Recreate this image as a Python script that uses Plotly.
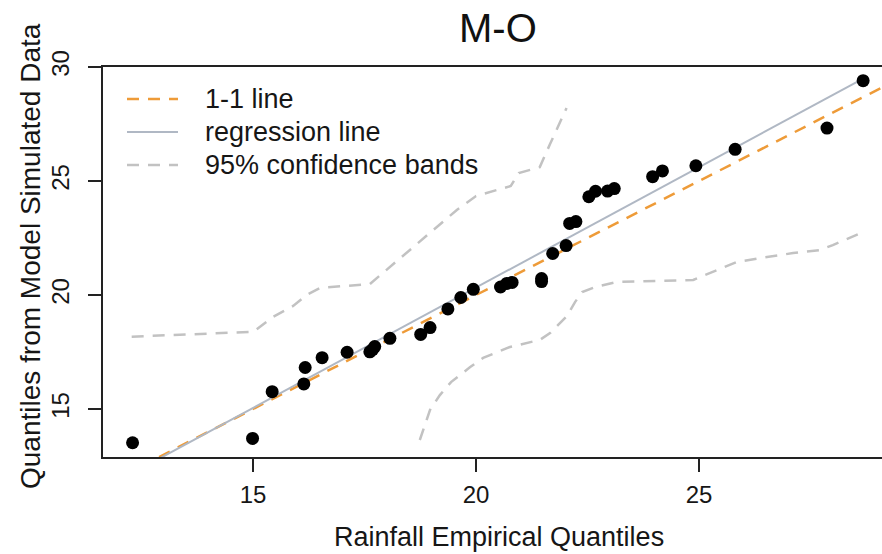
import numpy as np
import plotly.graph_objects as go

# Sorted quantiles: rainfall (empirical) vs. model-simulated
rain_q = [12.30, 14.99, 15.43, 16.14, 16.17, 16.55, 17.11, 17.62, 17.68, 17.73,
          18.07, 18.76, 18.97, 19.37, 19.66, 19.94, 20.55, 20.69, 20.81, 21.47,
          21.47, 21.72, 22.02, 22.10, 22.24, 22.53, 22.68, 22.95, 23.10, 23.96,
          24.18, 24.93, 25.81, 27.87, 28.68]
model_q = [13.52, 13.71, 15.76, 16.10, 16.82, 17.25, 17.49, 17.51, 17.60, 17.74,
           18.10, 18.27, 18.57, 19.39, 19.89, 20.25, 20.35, 20.51, 20.55, 20.59,
           20.72, 21.82, 22.17, 23.14, 23.22, 24.31, 24.55, 24.56, 24.67, 25.19,
           25.44, 25.67, 26.39, 27.32, 29.40]

# 95% confidence bands
upper_x = [12.28, 15.01, 15.45, 15.90, 16.20, 16.50, 17.62, 17.91, 18.59, 19.13,
           19.57, 20.00, 20.47, 20.78, 20.96, 21.43, 21.66, 21.88, 22.03]
upper_y = [18.17, 18.39, 19.04, 19.52, 20.00, 20.31, 20.48, 20.96, 22.11, 22.98,
           23.73, 24.34, 24.61, 24.78, 25.35, 25.61, 26.62, 27.54, 28.20]
lower_x = [18.74, 18.97, 19.19, 19.44, 19.87, 20.16, 20.76, 21.43, 21.66, 22.04,
           22.22, 22.38, 22.67, 23.16, 24.87, 25.31, 25.85, 26.37, 27.11, 27.71,
           28.00, 28.68]
lower_y = [13.64, 14.96, 15.61, 16.18, 16.84, 17.24, 17.72, 18.03, 18.33, 19.08,
           19.69, 20.13, 20.35, 20.57, 20.66, 21.01, 21.45, 21.62, 21.84, 21.97,
           22.19, 22.76]

x_range = [11.637, 29.103]
y_range = [12.895, 30.0]
x_ticks = [15, 20, 25]
y_ticks = [15, 20, 25, 30]

title = "M-O"
x_title = "Rainfall Empirical Quantiles"
y_title = "Quantiles from Model Simulated Data"
legend_labels = ["1-1 line", "regression line", "95% confidence bands"]

ORANGE = "#EE9B38"
REG = "#B0B8C4"
BAND = "#C2C2C2"
AXIS = "#222222"
TEXT = "#161616"
FONT = "Liberation Sans, Arial, Helvetica, sans-serif"

# least-squares fit of model quantiles on rainfall quantiles
slope, intercept = np.polyfit(rain_q, model_q, 1)
reg_x = np.array([min(rain_q), max(rain_q)])
reg_y = intercept + slope * reg_x

fig = go.Figure()

fig.add_trace(go.Scatter(x=upper_x, y=upper_y, mode="lines", showlegend=False,
                         line=dict(color=BAND, width=2.5, dash="12px,9px")))
fig.add_trace(go.Scatter(x=lower_x, y=lower_y, mode="lines", showlegend=False,
                         line=dict(color=BAND, width=2.5, dash="12px,9px")))
fig.add_trace(go.Scatter(x=x_range, y=x_range, mode="lines", showlegend=False,
                         line=dict(color=ORANGE, width=2.5, dash="12px,9px")))
fig.add_trace(go.Scatter(x=reg_x, y=reg_y, mode="lines", showlegend=False,
                         line=dict(color=REG, width=2)))
fig.add_trace(go.Scatter(x=rain_q, y=model_q, mode="markers", showlegend=False,
                         cliponaxis=False,
                         marker=dict(color="black", size=13, line=dict(width=0))))

# legend drawn in the upper-left corner of the panel
W, H = 779.0, 390.0  # plot-area size in px


def px_x(p):
    return (p - 103) / W


def px_y(p):
    return (457 - p) / H


leg_rows = [99, 132, 165]
leg_styles = [dict(color=ORANGE, width=2.5, dash="12px,9px"),
              dict(color=REG, width=2),
              dict(color=BAND, width=2.5, dash="12px,9px")]
for row, style, label in zip(leg_rows, leg_styles, legend_labels):
    fig.add_shape(type="line", xref="paper", yref="paper",
                  x0=px_x(127), x1=px_x(178), y0=px_y(row), y1=px_y(row),
                  line=style)
    fig.add_annotation(text=label, xref="paper", yref="paper",
                       x=px_x(203), y=px_y(row), xanchor="left", yanchor="middle",
                       showarrow=False, font=dict(size=27, color=TEXT, family=FONT))

fig.add_annotation(text=title, xref="paper", yref="paper", x=px_x(498), y=px_y(28),
                   xanchor="center", yanchor="middle", showarrow=False,
                   font=dict(size=40, color="#111111", family=FONT))
fig.add_annotation(text=x_title, xref="paper", yref="paper", x=px_x(499), y=px_y(537),
                   xanchor="center", yanchor="middle", showarrow=False,
                   font=dict(size=27, color=TEXT, family=FONT))
fig.add_annotation(text=y_title, xref="paper", yref="paper", x=px_x(30), y=px_y(256),
                   xanchor="center", yanchor="middle", showarrow=False, textangle=-90,
                   font=dict(size=28, color=TEXT, family=FONT))

fig.update_layout(
    width=882, height=554,
    margin=dict(l=103, r=0, t=67, b=97),
    paper_bgcolor="white", plot_bgcolor="white",
    font=dict(family=FONT, color=TEXT),
    showlegend=False,
)
fig.update_xaxes(range=x_range, tickvals=x_ticks, ticks="outside", ticklen=13,
                 tickwidth=2, tickcolor=AXIS, showline=True, linewidth=2,
                 linecolor=AXIS, mirror=True, showgrid=False, zeroline=False,
                 ticklabelstandoff=2,
                 tickfont=dict(size=24, family=FONT, color=TEXT))
fig.update_yaxes(range=y_range, tickvals=y_ticks, ticks="outside", ticklen=13,
                 tickwidth=2, tickcolor=AXIS, showline=True, linewidth=2,
                 linecolor=AXIS, showgrid=False, zeroline=False, tickangle=-90,
                 ticklabelstandoff=9,
                 tickfont=dict(size=24, family=FONT, color=TEXT))

fig.write_html("out.html")
